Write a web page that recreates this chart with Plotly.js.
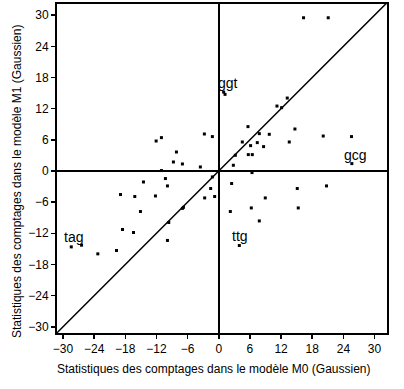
<!DOCTYPE html>
<html>
<head>
<meta charset="utf-8">
<script src="https://cdn.plot.ly/plotly-3.0.1.min.js"></script>
<style>
html,body{margin:0;padding:0;background:#fff;}
#chart{width:404px;height:389px;}
</style>
</head>
<body>
<div id="chart"></div>
<script>
// Count statistics under model M0 (x) and model M1 (y)
var m0Values = [-12.06,-11.04,-8.15,-8.73,-7.0,-3.54,-2.77,-1.23,-11.04,16.33,21.08,0.94,1.21,13.19,11.21,12.1,5.63,14.67,7.81,9.73,20.12,25.56,4.54,7.42,6.13,8.63,13.58,3.19,5.69,6.46,2.81,25.63,6.4,-14.5,-10.27,-9.88,-1.23,-1.56,-2.71,-0.79,-18.92,-16.17,-12.19,-15.08,-7.0,-6.8,-9.63,-18.54,-16.42,-9.88,-28.4,-26.42,-23.29,-19.69,2.48,15.12,20.75,8.96,6.27,15.31,2.23,7.81,3.96];
var m1Values = [5.77,6.42,3.65,1.73,1.35,0.77,7.12,6.62,0.08,29.5,29.5,15.19,14.75,14.04,12.5,12.19,8.54,8.08,7.19,7.06,6.73,6.62,5.58,5.46,4.88,4.69,5.58,3.02,3.15,3.15,1.1,1.42,-0.31,-2.12,-1.46,-2.88,-1.15,-3.38,-5.19,-4.92,-4.54,-4.92,-4.81,-7.81,-7.2,-7.0,-9.92,-11.27,-11.85,-13.38,-14.62,-14.29,-15.96,-15.31,-2.42,-3.38,-2.88,-5.19,-7.12,-7.12,-7.81,-9.62,-14.35];
var labelTexts = ["ggt","gcg","tag","ttg"];
var labelX = [1.8, 26.4, -28.0, 4.0];
var labelY = [17.0, 3.0, -12.7, -12.5];
var tickVals = [-30,-24,-18,-12,-6,0,6,12,18,24,30];
var xTitle = "Statistiques des comptages dans le modèle M0 (Gaussien)";
var yTitle = "Statistiques des comptages dans le modèle M1 (Gaussien)";
var diagonal = [-40, 40];

var font = {family: "Liberation Sans, Arial, Helvetica, sans-serif", size: 12, color: "#000"};

var traces = [
  {x: diagonal, y: diagonal, mode: "lines", type: "scatter",
   line: {color: "#000", width: 1.5}, hoverinfo: "skip", showlegend: false},
  {x: m0Values, y: m1Values, mode: "markers", type: "scatter",
   marker: {symbol: "square", size: 3, color: "#000"}, showlegend: false}
];

var annotations = labelTexts.map(function(t, i){
  return {x: labelX[i], y: labelY[i], xref: "x", yref: "y", text: t, showarrow: false,
          font: {family: font.family, size: 14, color: "#000"}};
});
annotations.push({xref: "paper", yref: "paper", x: 0.476, y: -0.109, xanchor: "center", yanchor: "middle",
  text: xTitle, showarrow: false, font: font});
annotations.push({xref: "paper", yref: "paper", x: -0.121, y: 0.462, xanchor: "center", yanchor: "middle",
  text: yTitle, textangle: -90, showarrow: false, font: font});

var axisCommon = {
  tickvals: tickVals, ticks: "outside", ticklen: 4, tickwidth: 1.5, tickcolor: "#000",
  showgrid: false, zeroline: true, zerolinecolor: "#000", zerolinewidth: 1.5,
  showline: true, linecolor: "#000", linewidth: 2, mirror: true,
  tickfont: font
};

var layout = {
  width: 404, height: 389,
  margin: {l: 57, r: 17, t: 4, b: 56},
  paper_bgcolor: "#fff", plot_bgcolor: "#fff",
  font: font,
  xaxis: Object.assign({}, axisCommon, {range: [-31.15, 32.4]}),
  yaxis: Object.assign({}, axisCommon, {range: [-31.2, 32.15]}),
  annotations: annotations,
  showlegend: false
};

Plotly.newPlot("chart", traces, layout, {displayModeBar: false, staticPlot: true});
</script>
</body>
</html>
